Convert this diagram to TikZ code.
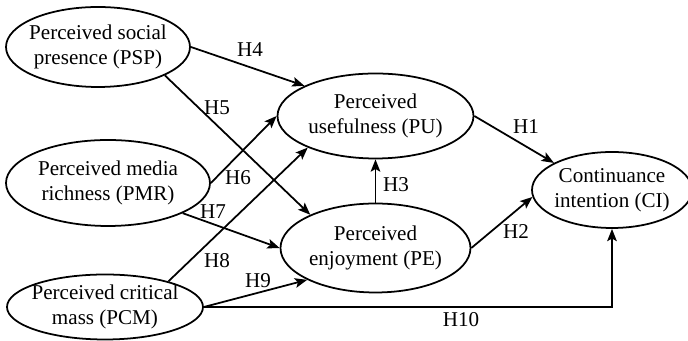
\documentclass[tikz,border=0pt]{standalone}
\usepackage{fontspec}
\setmainfont{Liberation Serif}
\usetikzlibrary{shapes.geometric,arrows.meta}

\begin{document}
\begin{tikzpicture}[
  font=\fontsize{12}{14.2}\selectfont,
  construct/.style={ellipse, draw, line width=1pt, align=center, inner xsep=-3pt, inner ysep=0pt},
  hyp/.style={line width=1pt, -{Stealth[length=7pt,width=5.5pt,inset=1.5pt]}}
]
  \useasboundingbox (0,0) rectangle (13.76,6.82);

  % Constructs
  \node[construct, minimum width=3.68cm, minimum height=1.6cm] (psp) at (1.96,5.88) {Perceived social\\presence (PSP)};
  \node[construct, minimum width=4.08cm, minimum height=1.72cm] (pmr) at (2.16,3.16) {Perceived media\\richness (PMR)};
  \node[construct, minimum width=3.92cm, minimum height=1.3cm] (pcm) at (2.10,0.68) {Perceived critical\\mass (PCM)};
  \node[construct, minimum width=3.92cm, minimum height=1.7cm] (pu) at (7.51,4.50) {Perceived\\usefulness (PU)};
  \node[construct, minimum width=3.8cm, minimum height=1.78cm] (pe) at (7.51,1.86) {Perceived\\enjoyment (PE)};
  \node[construct, minimum width=3.2cm, minimum height=1.52cm] (ci) at (12.24,3.02) {Continuance\\intention (CI)};

  % Hypothesis labels
  \foreach \n/\x/\y in {1/10.52/4.28, 2/10.32/2.18, 3/7.92/3.12, 4/5.00/5.82, 5/4.34/4.66,
                        6/4.76/3.26, 7/4.26/2.58, 8/4.34/1.60, 9/5.16/1.20, 10/9.22/0.42} {
    \node (h\n) at (\x,\y) {H\n};
  }

  % Paths
  \draw[hyp] (pu.east) -- (ci.155);
  \draw[hyp] (pe.east) -- (ci.185);
  \draw[hyp] (pe.north) -- (pu.south);
  \draw[hyp] (psp.east) -- (pu.157);
  \draw[hyp] (psp.337) -- (pe.153);
  \draw[hyp] (pmr.east) -- (pu.west);
  \draw[hyp] (pmr.338) -- (pe.west);
  \draw[hyp] (pcm.22) -- (pu.205);
  \draw[hyp] (pcm.east) -- (pe.205);
  \draw[hyp] (pcm.east) -| (ci.south);
\end{tikzpicture}
\end{document}
